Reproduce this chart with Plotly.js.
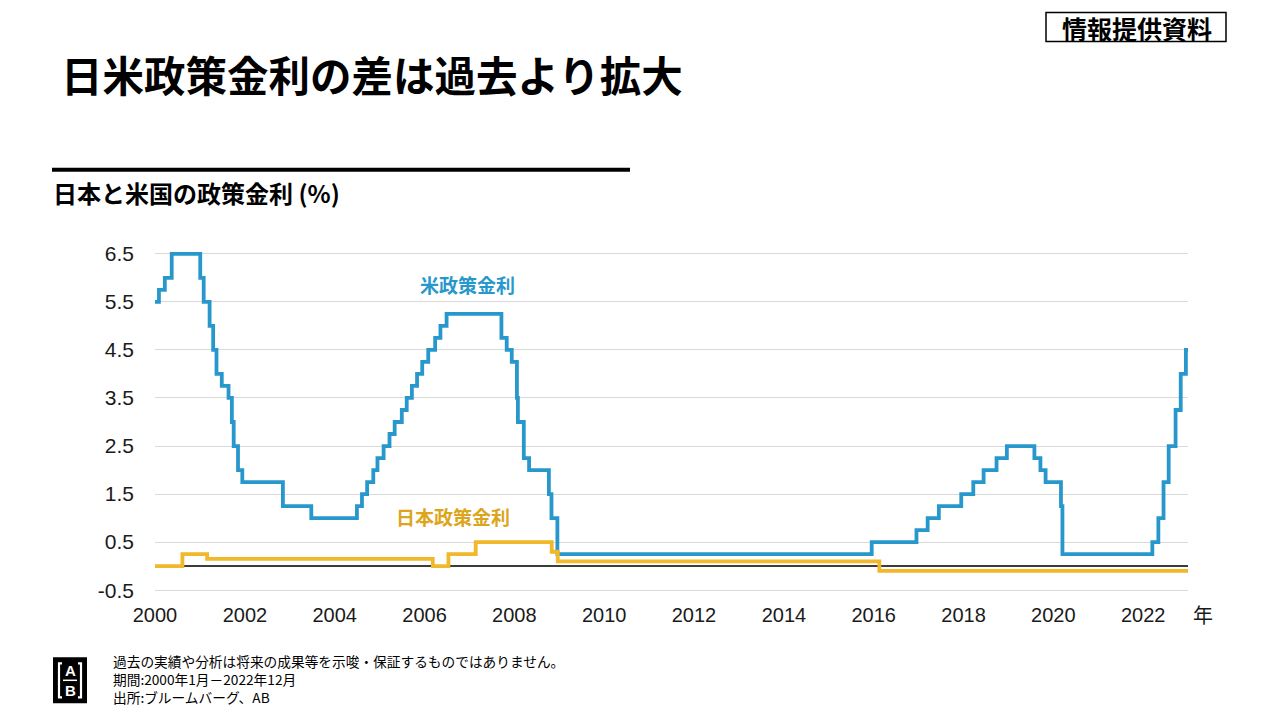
<!DOCTYPE html>
<html>
<head>
<meta charset="utf-8">
<script src="https://cdn.plot.ly/plotly-3.0.1.min.js"></script>
<style>
html,body{margin:0;padding:0;background:#fff;}
#chart{width:1280px;height:720px;}
</style>
</head>
<body>
<div id="chart"></div>
<script>
// US policy rate (upper bound of target), change dates
const usDates = ['2000-01-01','2000-02-02','2000-03-21','2000-05-16','2001-01-03','2001-01-31','2001-03-20','2001-04-18','2001-05-15','2001-06-27','2001-08-21','2001-09-17','2001-10-02','2001-11-06','2001-12-11','2002-11-06','2003-06-25','2004-06-30','2004-08-10','2004-09-21','2004-11-10','2004-12-14','2005-02-02','2005-03-22','2005-05-03','2005-06-30','2005-08-09','2005-09-20','2005-11-01','2005-12-13','2006-01-31','2006-03-28','2006-05-10','2006-06-29','2007-09-18','2007-10-31','2007-12-11','2008-01-22','2008-01-30','2008-03-18','2008-04-30','2008-10-08','2008-10-29','2008-12-16','2015-12-16','2016-12-14','2017-03-15','2017-06-14','2017-12-13','2018-03-21','2018-06-13','2018-09-26','2018-12-19','2019-07-31','2019-09-18','2019-10-30','2020-03-03','2020-03-15','2022-03-16','2022-05-04','2022-06-15','2022-07-27','2022-09-21','2022-11-02','2022-12-14','2022-12-31'];
const usRates = [5.5,5.75,6.0,6.5,6.0,5.5,5.0,4.5,4.0,3.75,3.5,3.0,2.5,2.0,1.75,1.25,1.0,1.25,1.5,1.75,2.0,2.25,2.5,2.75,3.0,3.25,3.5,3.75,4.0,4.25,4.5,4.75,5.0,5.25,4.75,4.5,4.25,3.5,3.0,2.25,2.0,1.5,1.0,0.25,0.5,0.75,1.0,1.25,1.5,1.75,2.0,2.25,2.5,2.25,2.0,1.75,1.25,0.25,0.5,1.0,1.75,2.5,3.25,4.0,4.5,4.5];

// Japan policy rate, change dates
const jpDates = ['2000-01-01','2000-08-11','2001-02-28','2006-03-09','2006-07-14','2007-02-21','2008-10-31','2008-12-19','2016-02-16','2022-12-31'];
const jpRates = [0,0.25,0.15,0,0.25,0.5,0.3,0.1,-0.1,-0.1];

const yTickVals = [-0.5,0.5,1.5,2.5,3.5,4.5,5.5,6.5];
const yTickText = ['-0.5','0.5','1.5','2.5','3.5','4.5','5.5','6.5'];

const usName = '米政策金利';
const jpName = '日本政策金利';

const blue = '#2898cc';
const gold = '#f0b82a';
const goldText = '#dca51c';

// plot area in pixels
const L = 155, R = 1188, T = 249.2, B = 594.8;
const px = x => (x - L) / (R - L);
const py = y => (B - y) / (B - T);

const JP = '"Noto Sans CJK JP", "Noto Sans", sans-serif';
const AR = '"Liberation Sans", Arial, sans-serif';

const traces = [
  {x: usDates, y: usRates, type: 'scatter', mode: 'lines', name: usName,
   line: {color: blue, width: 3.8, shape: 'hv'}},
  {x: jpDates, y: jpRates, type: 'scatter', mode: 'lines', name: jpName,
   line: {color: gold, width: 3.8, shape: 'hv'}}
];

const layout = {
  width: 1280, height: 720,
  margin: {l: L, r: 1280 - R, t: T, b: 720 - B},
  paper_bgcolor: '#fff', plot_bgcolor: '#fff',
  showlegend: false,
  xaxis: {
    type: 'date', range: ['2000-01-01', '2022-12-31'],
    tick0: '2000-01-01', dtick: 'M24', tickformat: '%Y',
    showgrid: false, zeroline: false, showline: false, ticks: '',
    ticklabelstandoff: 6,
    tickfont: {family: AR, size: 20, color: '#1a1a1a'}
  },
  yaxis: {
    range: [-0.6, 6.6],
    tickvals: yTickVals, ticktext: yTickText,
    showgrid: true, gridcolor: '#d9d9d9', gridwidth: 1,
    zeroline: true, zerolinecolor: '#3c3c3c', zerolinewidth: 1.5,
    showline: false, ticks: '',
    ticklabelstandoff: 20,
    tickfont: {family: AR, size: 21, color: '#1a1a1a'}
  },
  shapes: [
    {type: 'rect', xref: 'paper', yref: 'paper', x0: px(52), x1: px(630), y0: py(172), y1: py(168),
     fillcolor: '#000', line: {width: 0}},
    {type: 'rect', xref: 'paper', yref: 'paper', x0: px(1046), x1: px(1226), y0: py(42), y1: py(13),
     fillcolor: 'rgba(0,0,0,0)', line: {color: '#000', width: 1.5}},
    {type: 'rect', xref: 'paper', yref: 'paper', x0: px(53), x1: px(87), y0: py(703), y1: py(657),
     fillcolor: '#000', line: {width: 0}},
    {type: 'line', xref: 'paper', yref: 'paper', x0: px(63), x1: px(77), y0: py(680), y1: py(680),
     line: {color: '#fff', width: 1.5}},
    {type: 'path', xref: 'paper', yref: 'paper',
     path: 'M ' + px(62) + ' ' + py(663) + ' L ' + px(59) + ' ' + py(663) + ' L ' + px(59) + ' ' + py(697) + ' L ' + px(62) + ' ' + py(697),
     line: {color: '#fff', width: 2.2}},
    {type: 'path', xref: 'paper', yref: 'paper',
     path: 'M ' + px(78) + ' ' + py(663) + ' L ' + px(81) + ' ' + py(663) + ' L ' + px(81) + ' ' + py(697) + ' L ' + px(78) + ' ' + py(697),
     line: {color: '#fff', width: 2.2}}
  ],
  annotations: [
    {xref: 'paper', yref: 'paper', x: px(59), y: py(74), xanchor: 'left', yanchor: 'middle', showarrow: false,
     text: '<b>日米政策金利の差は過去より拡大</b>', font: {family: JP, size: 41.5, color: '#000'}},
    {xref: 'paper', yref: 'paper', x: px(51), y: py(193), xanchor: 'left', yanchor: 'middle', showarrow: false,
     text: '<b>日本と米国の政策金利 (%)</b>', font: {family: JP, size: 24, color: '#000'}},
    {xref: 'paper', yref: 'paper', x: px(1137), y: py(28), xanchor: 'center', yanchor: 'middle', showarrow: false,
     text: '<b>情報提供資料</b>', font: {family: JP, size: 25, color: '#000'}},
    {xref: 'paper', yref: 'paper', x: px(1203), y: py(614), xanchor: 'center', yanchor: 'middle', showarrow: false,
     text: '年', font: {family: JP, size: 20, color: '#1a1a1a'}},
    {x: '2006-12-20', y: 5.87, xref: 'x', yref: 'y', showarrow: false, xanchor: 'center', yanchor: 'middle',
     text: '<b>' + usName + '</b>', font: {family: JP, size: 19, color: blue}},
    {x: '2006-08-20', y: 1.04, xref: 'x', yref: 'y', showarrow: false, xanchor: 'center', yanchor: 'middle',
     text: '<b>' + jpName + '</b>', font: {family: JP, size: 19, color: goldText}},
    {xref: 'paper', yref: 'paper', x: px(70), y: py(670), xanchor: 'center', yanchor: 'middle', showarrow: false,
     text: '<b>A</b>', font: {family: AR, size: 15, color: '#fff'}},
    {xref: 'paper', yref: 'paper', x: px(70), y: py(690), xanchor: 'center', yanchor: 'middle', showarrow: false,
     text: '<b>B</b>', font: {family: AR, size: 15, color: '#fff'}},
    {xref: 'paper', yref: 'paper', x: px(111), y: py(661), xanchor: 'left', yanchor: 'middle', showarrow: false,
     text: '過去の実績や分析は将来の成果等を示唆・保証するものではありません。', font: {family: JP, size: 13.7, color: '#000'}},
    {xref: 'paper', yref: 'paper', x: px(111), y: py(679), xanchor: 'left', yanchor: 'middle', showarrow: false,
     text: '期間:2000年1月－2022年12月', font: {family: JP, size: 13.7, color: '#000'}},
    {xref: 'paper', yref: 'paper', x: px(111), y: py(697), xanchor: 'left', yanchor: 'middle', showarrow: false,
     text: '出所:ブルームバーグ、AB', font: {family: JP, size: 13.7, color: '#000'}}
  ]
};

Plotly.newPlot('chart', traces, layout, {displayModeBar: false, staticPlot: true});
</script>
</body>
</html>
